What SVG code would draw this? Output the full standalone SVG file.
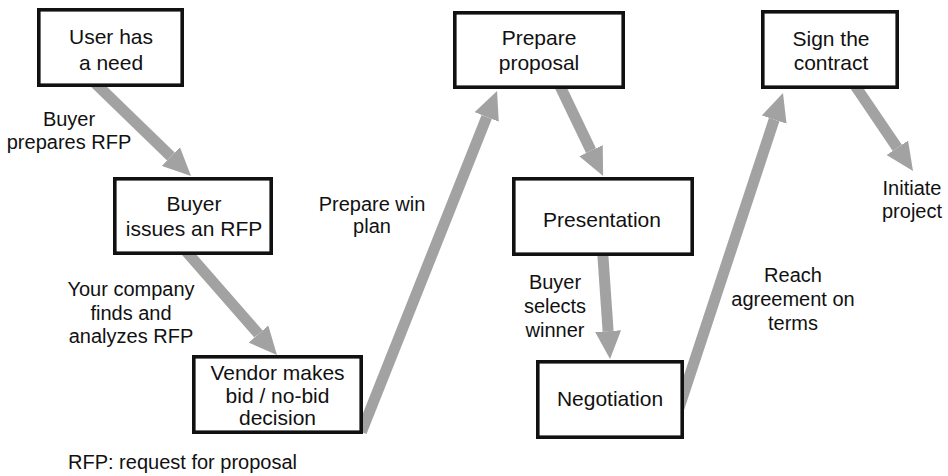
<svg xmlns="http://www.w3.org/2000/svg" width="948" height="476" viewBox="0 0 948 476">
<style>
.box{fill:#fff;stroke:#111;stroke-width:3.6}
.bt{font-family:"Liberation Sans",Arial,sans-serif;font-size:21px;fill:#111;text-anchor:middle}
.lb{font-family:"Liberation Sans",Arial,sans-serif;font-size:20px;fill:#111;text-anchor:middle}
.ar{stroke:#a2a2a2;stroke-width:11;fill:none;marker-end:url(#head)}
</style>
<defs>
<marker id="head" markerUnits="userSpaceOnUse" markerWidth="28" markerHeight="26" refX="0" refY="13" orient="auto">
<path d="M0,0 L28,13 L0,26 z" fill="#a2a2a2"/>
</marker>
</defs>
<rect width="948" height="476" fill="#fff"/>
<g id="connectors">
<path class="ar" d="M93,81 L170.9,156.5"/>
<path class="ar" d="M185,250 L258.5,334"/>
<path class="ar" d="M361.4,432 L486.7,117"/>
<path class="ar" d="M559,84 L591,150.7"/>
<path class="ar" d="M602.5,250 L608.1,331.1"/>
<path class="ar" d="M675.8,417.5 L774.2,119.6"/>
<path class="ar" d="M854,84 L897.3,147.8"/>
</g>
<g id="n1"><rect class="box" x="38.8" y="9.8" width="143.4" height="75.4"/><text class="bt" x="111" y="44">User has</text><text class="bt" x="111" y="70">a need</text></g>
<g id="n2"><rect class="box" x="114.8" y="178.8" width="156.4" height="74.4"/><text class="bt" x="194" y="211">Buyer</text><text class="bt" x="194" y="236">issues an RFP</text></g>
<g id="n3"><rect class="box" x="193.8" y="356.8" width="167.4" height="75.4"/><text class="bt" x="277.5" y="380">Vendor makes</text><text class="bt" x="277.5" y="403">bid / no-bid</text><text class="bt" x="277.5" y="425">decision</text></g>
<g id="n4"><rect class="box" x="454.8" y="12.8" width="168.4" height="74.4"/><text class="bt" x="539" y="45">Prepare</text><text class="bt" x="539" y="70">proposal</text></g>
<g id="n5"><rect class="box" x="513.8" y="178.8" width="178.4" height="75.4"/><text class="bt" x="602" y="227">Presentation</text></g>
<g id="n6"><rect class="box" x="537.8" y="361.8" width="144.4" height="75.4"/><text class="bt" x="610" y="406">Negotiation</text></g>
<g id="n7"><rect class="box" x="762.8" y="11.8" width="134.4" height="75.4"/><text class="bt" x="831" y="46">Sign the</text><text class="bt" x="831" y="70">contract</text></g>
<g id="labels">
<text class="lb" x="69" y="126">Buyer</text><text class="lb" x="69" y="149">prepares RFP</text>
<text class="lb" x="131" y="296">Your company</text><text class="lb" x="131" y="320">finds and</text><text class="lb" x="131" y="343">analyzes RFP</text>
<text class="lb" x="372" y="211">Prepare win</text><text class="lb" x="372" y="233">plan</text>
<text class="lb" x="555" y="289">Buyer</text><text class="lb" x="555" y="313">selects</text><text class="lb" x="555" y="337">winner</text>
<text class="lb" x="793" y="282">Reach</text><text class="lb" x="793" y="306">agreement on</text><text class="lb" x="793" y="330">terms</text>
<text class="lb" x="912" y="195">Initiate</text><text class="lb" x="912" y="218">project</text>
<text class="lb" x="68" y="469" style="text-anchor:start">RFP: request for proposal</text>
</g>
</svg>
